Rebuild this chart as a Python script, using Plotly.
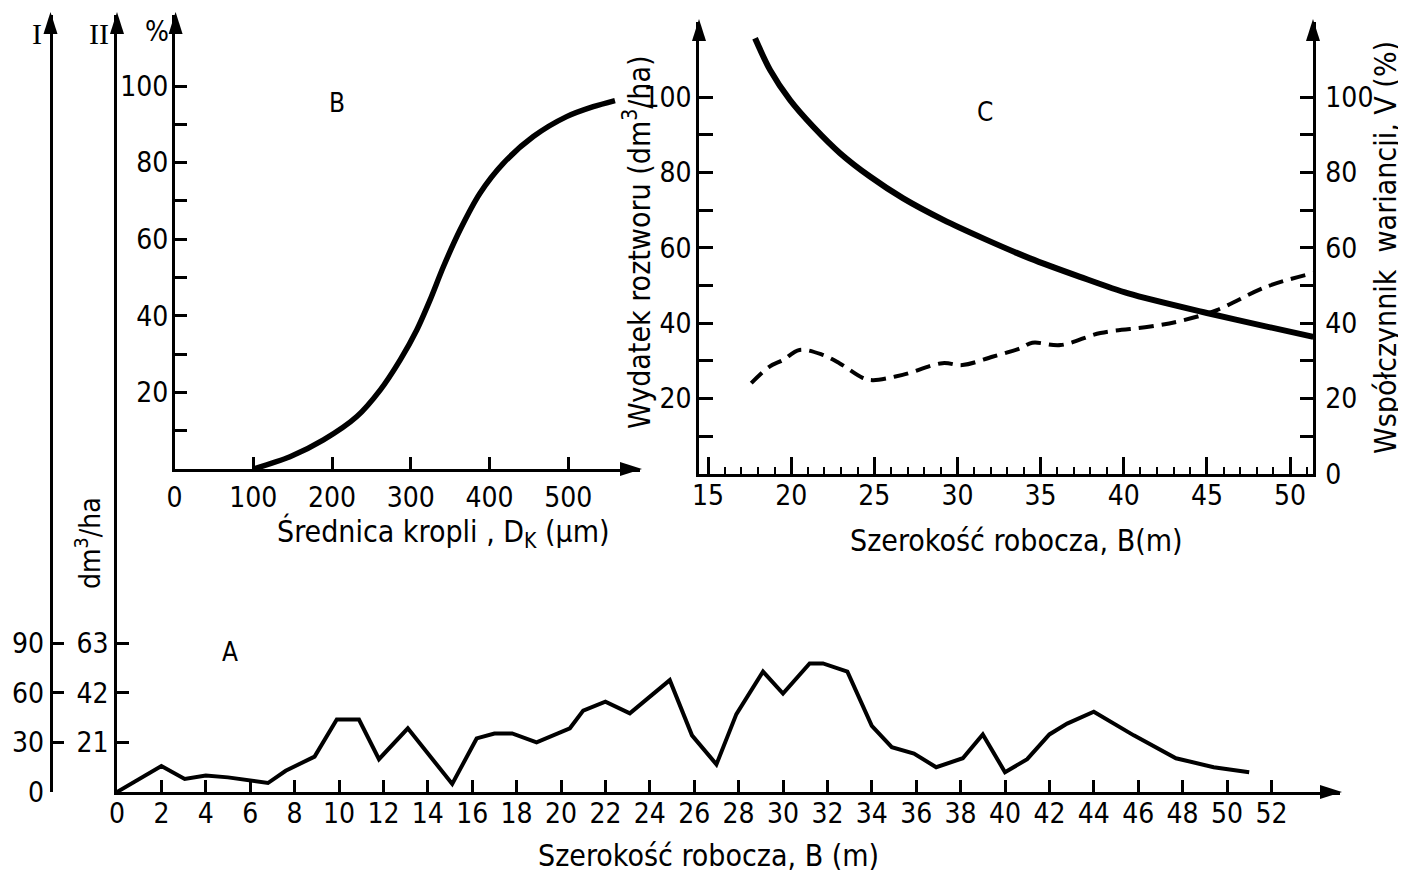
import plotly.graph_objects as go

# The page body adds an 8 px margin; the figure is sized to fill the rest of the window
W, H = 1406, 873
OFF = 8
FW, FH = W - OFF, H - OFF
FONT = "DejaVu Sans Condensed, DejaVu Sans, sans-serif"
SERIF = "Liberation Serif, DejaVu Serif, serif"

# ---------------- Panel A: distribution across working width ----------------
a_width_m = [0, 2, 3.05, 4, 5, 6, 6.8, 7.6, 8.9, 9.9, 10.9, 11.8, 13.1, 15.1, 16.2,
             17.0, 17.8, 18.9, 19.6, 20.4, 21, 22, 23.1, 24.9, 25.9, 27, 27.9, 29.1,
             30, 31.2, 31.8, 32.9, 34, 34.9, 35.9, 36.9, 38.1, 39, 40, 41, 42, 42.8,
             44, 45.8, 47.7, 49.4, 51]
a_rate_II = [0, 11, 5.5, 7, 6.2, 5, 3.8, 9, 15, 30.7, 30.7, 13.9, 27, 3.4, 22.7,
             24.8, 24.8, 21, 24, 27, 34.5, 38.3, 33.3, 47.4, 24, 11.7, 33, 51,
             41.7, 54.5, 54.5, 51, 28, 19, 16.3, 10.5, 14.3, 24.4, 8.4, 13.9, 24.4, 29,
             34, 24, 14.3, 10.5, 8.4]
a_xticks = list(range(0, 53, 2))
a_II_ticks = [21, 42, 63]
a_I_ticks = [0, 30, 60, 90]

# ---------------- Panel B: cumulative drop-size distribution ----------------
b_diam = [100, 146.5, 189, 231.4, 261, 286.5, 307.5, 324.3, 341.3, 362.4, 387.8,
          417.4, 455.5, 497.8, 531.6, 559.2]
b_cum = [0, 3.2, 7.6, 13.7, 20.6, 28.5, 36.3, 44.1, 52.8, 62.4, 72, 79.8, 86.8,
         92, 94.6, 96.2]
b_xticks = [0, 100, 200, 300, 400, 500]
b_yticks = [20, 40, 60, 80, 100]
b_yminor = [10, 30, 50, 70, 90]

# ---------------- Panel C: rate and coefficient of variation ----------------
c_width_rate = [17.83, 18.73, 19.93, 21.33, 22.94, 24.74, 26.74, 29.15, 31.55,
                34.36, 37.37, 40.27, 45.0, 48.6, 51.4]
c_rate = [115.6, 107.2, 99.2, 92.1, 85.1, 78.9, 73.1, 67.4, 62.5, 57.2, 52.3,
          47.9, 42.7, 39.1, 36.4]
c_width_cv = [17.6, 18.7, 19.5, 20.5, 21.9, 22.9, 24.3, 24.9, 26.7, 29.1, 30.3, 32.1,
              33.8, 34.5, 36.2, 38.6, 41.6, 43.6, 45.6, 48.6, 51.4]
c_cv = [24.1, 28.5, 30.2, 32.9, 31.6, 29.4, 25.5, 24.9, 26.3, 29.4, 28.9, 31.1,
        33.4, 34.8, 34.2, 37.4, 39.1, 40.8, 43.5, 49.7, 53.3]
c_xticks = [15, 20, 25, 30, 35, 40, 45, 50]
c_yticks_left = [20, 40, 60, 80, 100]
c_yticks_right = [0, 20, 40, 60, 80, 100]
c_yminor = [10, 30, 50, 70, 90]


def px(x):
    return (x - OFF) / FW


def py(y):
    return 1 - (y - OFF) / FH


tickfont = dict(family=FONT, size=28, color="black")
common = dict(showgrid=False, zeroline=False, showline=True, linecolor="black",
              linewidth=2.5, ticks="inside", tickcolor="black", tickwidth=2.5,
              tickfont=tickfont, fixedrange=True, automargin=False)

fig = go.Figure()
fig.add_trace(go.Scatter(x=a_width_m, y=a_rate_II, mode="lines",
                         line=dict(color="black", width=4), xaxis="x", yaxis="y"))
fig.add_trace(go.Scatter(x=[None], y=[None], xaxis="x", yaxis="y5", showlegend=False))
fig.add_trace(go.Scatter(x=b_diam, y=b_cum, mode="lines",
                         line=dict(color="black", width=5.5, shape="spline", smoothing=0.8),
                         xaxis="x2", yaxis="y2"))
fig.add_trace(go.Scatter(x=c_width_rate, y=c_rate, mode="lines",
                         line=dict(color="black", width=6, shape="spline", smoothing=0.8),
                         xaxis="x3", yaxis="y3"))
fig.add_trace(go.Scatter(x=c_width_cv, y=c_cv, mode="lines",
                         line=dict(color="black", width=4, shape="spline", dash="15px,8px"),
                         xaxis="x3", yaxis="y4"))

# geometry (pixels in the window)
a_x0, a_x1, a_ppu = 117, 1340, 22.2
a_ybot, a_ytop, a_yppu = 792, 15, 2.36
b_x0, b_x1, b_ppu = 174.6, 640, 0.7875
b_ybot, b_ytop, b_yppu = 469, 15, 3.83
c_x0, c_x1 = 699, 1313
c_ybot, c_ytop, c_yppu = 474, 22, 3.77
c_xppu, c_x15 = 16.63, 708

a_yr = (a_ybot - a_ytop) / a_yppu
minor_y = dict(ticks="inside", tickcolor="black", tickwidth=2.5, ticklen=13)

fig.update_layout(
    template="none",
    width=FW, height=FH, margin=dict(l=0, r=0, t=0, b=0, pad=0), autosize=False,
    paper_bgcolor="white", plot_bgcolor="rgba(0,0,0,0)", showlegend=False,
    xaxis=dict(common, domain=[px(a_x0), px(a_x1)], range=[0, (a_x1 - a_x0) / a_ppu],
               anchor="y", tickvals=a_xticks, ticklen=12, ticklabelstandoff=-5),
    yaxis=dict(common, domain=[py(a_ybot), py(a_ytop)], range=[0, a_yr], anchor="x",
               tickvals=a_II_ticks, ticklen=12, ticklabelstandoff=0),
    yaxis5=dict(common, overlaying="y", anchor="free", position=px(50.5), side="left",
                range=[0, a_yr * 90 / 63], tickvals=a_I_ticks, ticklen=12,
                ticklabelstandoff=0),
    xaxis2=dict(common, domain=[px(b_x0), px(b_x1)],
                range=[0, (b_x1 - b_x0) / b_ppu], anchor="y2",
                tickvals=b_xticks, ticklen=12, ticklabelstandoff=2),
    yaxis2=dict(common, domain=[py(b_ybot), py(b_ytop)],
                range=[0, (b_ybot - b_ytop) / b_yppu], anchor="x2",
                tickvals=b_yticks, ticklen=13, ticklabelstandoff=-2,
                minor=dict(minor_y, tickvals=b_yminor)),
    xaxis3=dict(common, domain=[px(c_x0), px(c_x1)],
                range=[15 - (c_x15 - c_x0) / c_xppu, 15 + (c_x1 - c_x15) / c_xppu],
                anchor="y3", tickvals=c_xticks, ticklen=17, ticklabelstandoff=-5,
                minor=dict(dtick=1, tick0=15, ticks="inside", ticklen=7,
                           tickwidth=2, tickcolor="black")),
    yaxis3=dict(common, domain=[py(c_ybot), py(c_ytop)],
                range=[0, (c_ybot - c_ytop) / c_yppu], anchor="x3",
                tickvals=c_yticks_left, ticklen=14, ticklabelstandoff=-1,
                minor=dict(minor_y, tickvals=c_yminor, ticklen=14)),
    yaxis4=dict(common, overlaying="y3", anchor="x3", side="right",
                range=[0, (c_ybot - c_ytop) / c_yppu],
                tickvals=c_yticks_right, ticklen=13, ticklabelstandoff=4,
                minor=dict(minor_y, tickvals=c_yminor)),
)


def tri_up(x, ytip, w=7, l=22):
    return (f"M {px(x)},{py(ytip)} L {px(x - w)},{py(ytip + l)} "
            f"L {px(x + w)},{py(ytip + l)} Z")


def tri_right(xtip, y, w=7, l=22):
    return (f"M {px(xtip)},{py(y)} L {px(xtip - l)},{py(y - w)} "
            f"L {px(xtip - l)},{py(y + w)} Z")


shapes = []
for path in [tri_up(50.5, 12), tri_up(117, 12), tri_up(b_x0 + 1, 12),
             tri_up(c_x0, 19), tri_up(c_x1, 19),
             tri_right(a_x1 + 2, a_ybot), tri_right(b_x1 + 2, b_ybot)]:
    shapes.append(dict(type="path", path=path, xref="paper", yref="paper",
                       fillcolor="black", line=dict(width=0)))
fig.update_layout(shapes=shapes)


def note(text, x, y, size=30, angle=0, family=FONT):
    fig.add_annotation(text=text, x=px(x), y=py(y), xref="paper", yref="paper",
                       showarrow=False, textangle=angle, xanchor="center",
                       yanchor="middle", font=dict(family=family, size=size, color="black"))


note("I", 37, 33, size=30, family=SERIF)
note("II", 99, 33, size=30, family=SERIF)
note("%", 157, 32, size=28)
note("A", 230, 652, size=26)
note("B", 337, 103, size=26)
note("C", 985, 112, size=26)
note("dm<sup>3</sup>/ha", 88, 543, size=28, angle=-90)
note("Szerokość robocza, B (m)", 708, 855)
note("Średnica kropli , D<sub>K</sub> (µm)", 443, 533)
note("Szerokość robocza, B(m)", 1016, 540)
note("Wydatek roztworu (dm<sup>3</sup>/ha)", 638, 242, angle=-90)
note("Współczynnik  wariancji, V (%)", 1386, 248, angle=-90)

fig.write_html("out.html")
